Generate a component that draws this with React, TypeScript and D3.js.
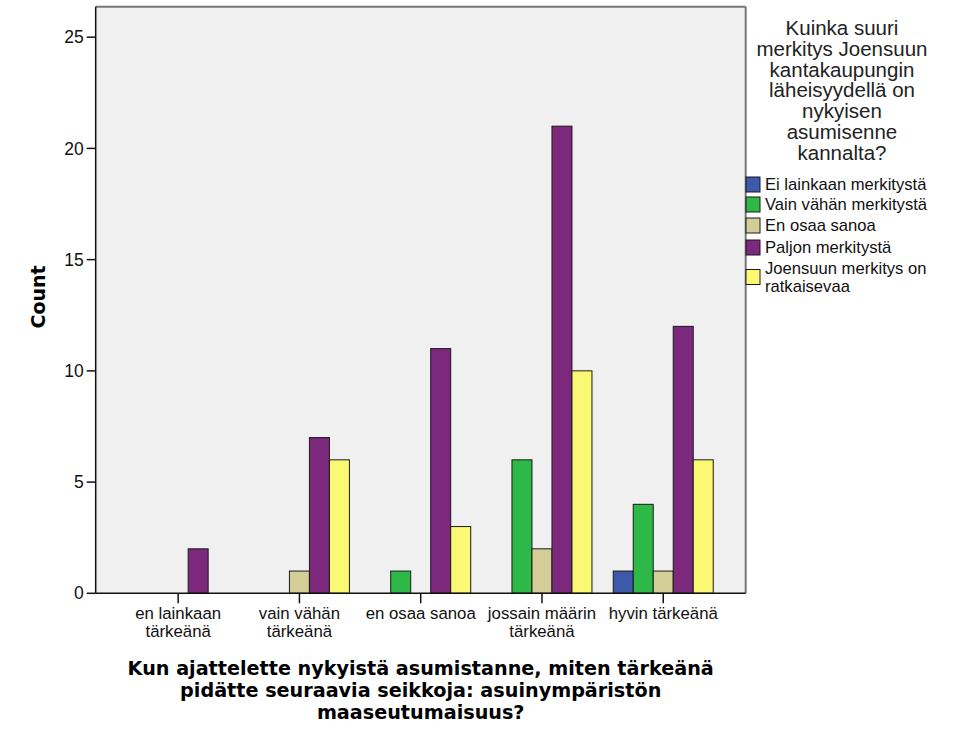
import React from "react";
import * as d3 from "d3";

const categories = [
  "en lainkaan tärkeänä",
  "vain vähän tärkeänä",
  "en osaa sanoa",
  "jossain määrin tärkeänä",
  "hyvin tärkeänä",
];
const categoryLines = [
  ["en lainkaan", "tärkeänä"],
  ["vain vähän", "tärkeänä"],
  ["en osaa sanoa"],
  ["jossain määrin", "tärkeänä"],
  ["hyvin tärkeänä"],
];
const seriesNames = [
  "Ei lainkaan merkitystä",
  "Vain vähän merkitystä",
  "En osaa sanoa",
  "Paljon merkitystä",
  "Joensuun merkitys on ratkaisevaa",
];
const legendLines = [
  ["Ei lainkaan merkitystä"],
  ["Vain vähän merkitystä"],
  ["En osaa sanoa"],
  ["Paljon merkitystä"],
  ["Joensuun merkitys on", "ratkaisevaa"],
];
const eiLainkaan = [0, 0, 0, 0, 1];
const vainVahan = [0, 0, 1, 6, 4];
const enOsaa = [0, 1, 0, 2, 1];
const paljon = [2, 7, 11, 21, 12];
const ratkaisevaa = [0, 6, 3, 10, 6];
const seriesValues = [eiLainkaan, vainVahan, enOsaa, paljon, ratkaisevaa];
const colors = ["#3e58ac", "#2eb848", "#d3ce97", "#7c287d", "#fbf873"];
const yTicks = [0, 5, 10, 15, 20, 25];
const legendTitle = [
  "Kuinka suuri",
  "merkitys Joensuun",
  "kantakaupungin",
  "läheisyydellä on",
  "nykyisen",
  "asumisenne",
  "kannalta?",
];
const xTitle = [
  "Kun ajattelette nykyistä asumistanne, miten tärkeänä",
  "pidätte seuraavia seikkoja: asuinympäristön",
  "maaseutumaisuus?",
];

const W = 958;
const H = 729;
const L = 95.7;
const R = 745.7;
const T = 6.7;
const B = 593.3;
const FONT = "'Liberation Sans', Arial, sans-serif";
const BOLDFONT = "'DejaVu Sans', sans-serif";

export default function App() {
  const y = d3.scaleLinear().domain([0, 26.37]).range([B, T]);
  const x = d3
    .scaleBand<string>()
    .domain(categories)
    .range([L, R])
    .paddingInner(0)
    .paddingOuter(0.18);
  const inner = d3
    .scaleBand<string>()
    .domain(seriesNames)
    .range([-50, 50])
    .padding(0);

  const bars: React.ReactNode[] = [];
  categories.forEach((c, ci) => {
    const cx = (x(c) as number) + x.bandwidth() / 2;
    seriesNames.forEach((s, si) => {
      const v = seriesValues[si][ci];
      if (!v) return;
      const bx = cx + (inner(s) as number);
      bars.push(
        <rect
          key={`${ci}-${si}`}
          x={bx}
          y={y(v)}
          width={inner.bandwidth()}
          height={y(0) - y(v)}
          fill={colors[si]}
          stroke="#1a1a1a"
          strokeWidth={1}
        />
      );
    });
  });

  const legendRowCenters = [184.5, 204.5, 225.5, 247.5, 277];

  return (
    <svg
      width={W}
      height={H}
      style={{ position: "absolute", left: 0, top: 0, background: "#fff" }}
      fontFamily={FONT}
    >
      <rect x={L} y={T} width={R - L} height={B - T} fill="#f0f0f0" />
      {bars}
      {/* frame */}
      <line x1={L} y1={T} x2={R} y2={T} stroke="#777" strokeWidth={2} />
      <line x1={R} y1={T} x2={R} y2={B} stroke="#777" strokeWidth={2} />
      <line x1={L} y1={T} x2={L} y2={B} stroke="#111" strokeWidth={1.5} />
      <line x1={L} y1={B} x2={R} y2={B} stroke="#111" strokeWidth={1.5} />
      {/* y ticks */}
      {yTicks.map((t) => (
        <g key={t}>
          <line x1={L - 9} x2={L} y1={y(t)} y2={y(t)} stroke="#111" strokeWidth={1.5} />
          <text x={L - 12} y={y(t)} dy="0.35em" textAnchor="end" fontSize={17.5} fill="#111">
            {t}
          </text>
        </g>
      ))}
      <text
        transform={`translate(45,297) rotate(-90)`}
        textAnchor="middle"
        fontSize={19}
        fontWeight="bold"
        fontFamily={BOLDFONT}
        fill="#000"
      >
        Count
      </text>
      {/* x ticks */}
      {categories.map((c, ci) => {
        const cx = (x(c) as number) + x.bandwidth() / 2;
        return (
          <g key={c}>
            <line x1={cx} x2={cx} y1={B} y2={B + 10} stroke="#111" strokeWidth={1.5} />
            {categoryLines[ci].map((ln, li) => (
              <text
                key={li}
                x={cx}
                y={619 + li * 17.5}
                textAnchor="middle"
                fontSize={16.8}
                fill="#111"
              >
                {ln}
              </text>
            ))}
          </g>
        );
      })}
      {xTitle.map((ln, i) => (
        <text
          key={i}
          x={(L + R) / 2}
          y={675 + i * 22}
          textAnchor="middle"
          fontSize={19.2}
          fontWeight="bold"
          fontFamily={BOLDFONT}
          fill="#000"
        >
          {ln}
        </text>
      ))}
      {/* legend */}
      {legendTitle.map((ln, i) => (
        <text
          key={i}
          x={842}
          y={35 + i * 20.8}
          textAnchor="middle"
          fontSize={20.5}
          fill="#222"
        >
          {ln}
        </text>
      ))}
      {seriesNames.map((s, i) => {
        const cy = legendRowCenters[i];
        const lines = legendLines[i];
        return (
          <g key={s}>
            <rect x={746} y={cy - 7.5} width={14} height={15} fill={colors[i]} stroke="#1a1a1a" strokeWidth={1} />
            {lines.map((ln, li) => (
              <text
                key={li}
                x={765}
                y={cy + (li - (lines.length - 1) / 2) * 17.5}
                dy="0.35em"
                fontSize={16.6}
                fill="#111"
              >
                {ln}
              </text>
            ))}
          </g>
        );
      })}
    </svg>
  );
}
